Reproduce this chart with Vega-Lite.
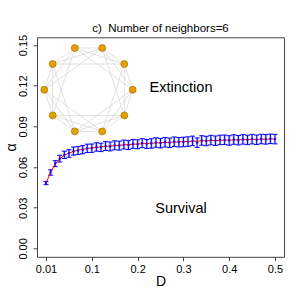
{
 "$schema": "https://vega.github.io/schema/vega-lite/v6.json",
 "width": 247, "height": 219.5,
 "autosize": {"type": "none"},
 "padding": {"left": 37, "top": 37.3, "right": 20, "bottom": 47.2},
 "background": "white",
 "config": {
  "view": {"stroke": "#444", "strokeWidth": 1},
  "font": "Liberation Sans",
  "axis": {"grid": false, "domain": false, "tickColor": "#444", "tickSize": 4, "labelColor": "black", "titleColor": "black", "labelFontSize": 11, "titleFontWeight": "normal", "labelFont": "Liberation Sans", "titleFont": "Liberation Sans", "titleFontSize": 14}
 },
 "title": {"text": "c)\u00a0 Number of neighbors=6", "fontSize": 11.5, "fontWeight": "normal", "font": "Liberation Sans", "color": "black", "offset": 0},
 "datasets": {
  "curve": [
   {"D":0.00,"m":0.0482,"fit":0.0480,"lo":0.0470,"hi":0.0494},
   {"D":0.01,"m":0.0560,"fit":0.0562,"lo":0.0540,"hi":0.0580},
   {"D":0.02,"m":0.0625,"fit":0.0622,"lo":0.0603,"hi":0.0647},
   {"D":0.03,"m":0.0662,"fit":0.0660,"lo":0.0637,"hi":0.0687},
   {"D":0.04,"m":0.0690,"fit":0.0686,"lo":0.0663,"hi":0.0717},
   {"D":0.05,"m":0.0700,"fit":0.0703,"lo":0.0672,"hi":0.0728},
   {"D":0.06,"m":0.0718,"fit":0.0715,"lo":0.0688,"hi":0.0748},
   {"D":0.07,"m":0.0722,"fit":0.0724,"lo":0.0692,"hi":0.0752},
   {"D":0.08,"m":0.0728,"fit":0.0731,"lo":0.0698,"hi":0.0758},
   {"D":0.09,"m":0.0738,"fit":0.0736,"lo":0.0707,"hi":0.0769},
   {"D":0.10,"m":0.0739,"fit":0.0741,"lo":0.0708,"hi":0.0770},
   {"D":0.11,"m":0.0748,"fit":0.0745,"lo":0.0717,"hi":0.0779},
   {"D":0.12,"m":0.0745,"fit":0.0749,"lo":0.0714,"hi":0.0776},
   {"D":0.13,"m":0.0755,"fit":0.0752,"lo":0.0722,"hi":0.0788},
   {"D":0.14,"m":0.0752,"fit":0.0755,"lo":0.0719,"hi":0.0785},
   {"D":0.15,"m":0.0760,"fit":0.0758,"lo":0.0727,"hi":0.0793},
   {"D":0.16,"m":0.0758,"fit":0.0761,"lo":0.0725,"hi":0.0791},
   {"D":0.17,"m":0.0766,"fit":0.0763,"lo":0.0733,"hi":0.0799},
   {"D":0.18,"m":0.0762,"fit":0.0766,"lo":0.0729,"hi":0.0795},
   {"D":0.19,"m":0.0771,"fit":0.0768,"lo":0.0738,"hi":0.0804},
   {"D":0.20,"m":0.0768,"fit":0.0770,"lo":0.0735,"hi":0.0801},
   {"D":0.21,"m":0.0776,"fit":0.0772,"lo":0.0743,"hi":0.0809},
   {"D":0.22,"m":0.0770,"fit":0.0774,"lo":0.0737,"hi":0.0803},
   {"D":0.23,"m":0.0774,"fit":0.0776,"lo":0.0739,"hi":0.0809},
   {"D":0.24,"m":0.0781,"fit":0.0778,"lo":0.0746,"hi":0.0816},
   {"D":0.25,"m":0.0776,"fit":0.0779,"lo":0.0741,"hi":0.0811},
   {"D":0.26,"m":0.0783,"fit":0.0781,"lo":0.0748,"hi":0.0818},
   {"D":0.27,"m":0.0779,"fit":0.0783,"lo":0.0744,"hi":0.0814},
   {"D":0.28,"m":0.0787,"fit":0.0784,"lo":0.0752,"hi":0.0822},
   {"D":0.29,"m":0.0783,"fit":0.0786,"lo":0.0748,"hi":0.0818},
   {"D":0.30,"m":0.0785,"fit":0.0787,"lo":0.0750,"hi":0.0820},
   {"D":0.31,"m":0.0788,"fit":0.0789,"lo":0.0753,"hi":0.0823},
   {"D":0.32,"m":0.0793,"fit":0.0790,"lo":0.0758,"hi":0.0828},
   {"D":0.33,"m":0.0780,"fit":0.0791,"lo":0.0745,"hi":0.0815},
   {"D":0.34,"m":0.0796,"fit":0.0793,"lo":0.0761,"hi":0.0831},
   {"D":0.35,"m":0.0792,"fit":0.0794,"lo":0.0757,"hi":0.0827},
   {"D":0.36,"m":0.0799,"fit":0.0795,"lo":0.0764,"hi":0.0834},
   {"D":0.37,"m":0.0794,"fit":0.0796,"lo":0.0759,"hi":0.0829},
   {"D":0.38,"m":0.0800,"fit":0.0797,"lo":0.0765,"hi":0.0835},
   {"D":0.39,"m":0.0801,"fit":0.0798,"lo":0.0766,"hi":0.0836},
   {"D":0.40,"m":0.0796,"fit":0.0799,"lo":0.0761,"hi":0.0831},
   {"D":0.41,"m":0.0803,"fit":0.0800,"lo":0.0768,"hi":0.0838},
   {"D":0.42,"m":0.0798,"fit":0.0801,"lo":0.0763,"hi":0.0833},
   {"D":0.43,"m":0.0804,"fit":0.0802,"lo":0.0769,"hi":0.0839},
   {"D":0.44,"m":0.0800,"fit":0.0803,"lo":0.0765,"hi":0.0835},
   {"D":0.45,"m":0.0806,"fit":0.0804,"lo":0.0771,"hi":0.0841},
   {"D":0.46,"m":0.0801,"fit":0.0804,"lo":0.0766,"hi":0.0836},
   {"D":0.47,"m":0.0807,"fit":0.0805,"lo":0.0772,"hi":0.0842},
   {"D":0.48,"m":0.0804,"fit":0.0806,"lo":0.0769,"hi":0.0839},
   {"D":0.49,"m":0.0808,"fit":0.0806,"lo":0.0773,"hi":0.0843},
   {"D":0.50,"m":0.0806,"fit":0.0807,"lo":0.0771,"hi":0.0841}
  ],
  "nodes": [
   {"D":0.1893,"a":0.1170},{"D":0.1710,"a":0.1360},{"D":0.1227,"a":0.1478},{"D":0.0629,"a":0.1478},{"D":0.0146,"a":0.1360},
   {"D":-0.0037,"a":0.1170},{"D":0.0146,"a":0.0981},{"D":0.0629,"a":0.0863},{"D":0.1227,"a":0.0863},{"D":0.1710,"a":0.0981}
  ],
  "edges": [
   {"D":0.1893,"a":0.1170,"D2":0.1710,"a2":0.1360},
   {"D":0.1710,"a":0.1360,"D2":0.1227,"a2":0.1478},
   {"D":0.1227,"a":0.1478,"D2":0.0629,"a2":0.1478},
   {"D":0.0629,"a":0.1478,"D2":0.0146,"a2":0.1360},
   {"D":0.0146,"a":0.1360,"D2":-0.0037,"a2":0.1170},
   {"D":-0.0037,"a":0.1170,"D2":0.0146,"a2":0.0981},
   {"D":0.0146,"a":0.0981,"D2":0.0629,"a2":0.0863},
   {"D":0.0629,"a":0.0863,"D2":0.1227,"a2":0.0863},
   {"D":0.1227,"a":0.0863,"D2":0.1710,"a2":0.0981},
   {"D":0.1710,"a":0.0981,"D2":0.1893,"a2":0.1170},
   {"D":0.1893,"a":0.1170,"D2":0.1227,"a2":0.1478},
   {"D":0.1710,"a":0.1360,"D2":0.0629,"a2":0.1478},
   {"D":0.1227,"a":0.1478,"D2":0.0146,"a2":0.1360},
   {"D":0.0629,"a":0.1478,"D2":-0.0037,"a2":0.1170},
   {"D":0.0146,"a":0.1360,"D2":0.0146,"a2":0.0981},
   {"D":-0.0037,"a":0.1170,"D2":0.0629,"a2":0.0863},
   {"D":0.0146,"a":0.0981,"D2":0.1227,"a2":0.0863},
   {"D":0.0629,"a":0.0863,"D2":0.1710,"a2":0.0981},
   {"D":0.1227,"a":0.0863,"D2":0.1893,"a2":0.1170},
   {"D":0.1710,"a":0.0981,"D2":0.1710,"a2":0.1360},
   {"D":0.1893,"a":0.1170,"D2":0.0629,"a2":0.1478},
   {"D":0.1710,"a":0.1360,"D2":0.0146,"a2":0.1360},
   {"D":0.1227,"a":0.1478,"D2":-0.0037,"a2":0.1170},
   {"D":0.0629,"a":0.1478,"D2":0.0146,"a2":0.0981},
   {"D":0.0146,"a":0.1360,"D2":0.0629,"a2":0.0863},
   {"D":-0.0037,"a":0.1170,"D2":0.1227,"a2":0.0863},
   {"D":0.0146,"a":0.0981,"D2":0.1710,"a2":0.0981},
   {"D":0.0629,"a":0.0863,"D2":0.1893,"a2":0.1170},
   {"D":0.1227,"a":0.0863,"D2":0.1710,"a2":0.1360},
   {"D":0.1710,"a":0.0981,"D2":0.1227,"a2":0.1478}
  ],
  "labels": [
   {"D":0.2948,"a":0.1183,"t":"Extinction"},
   {"D":0.2948,"a":0.0290,"t":"Survival"}
  ]
 },
 "layer": [
  {
   "data": {"name": "edges"},
   "mark": {"type": "rule", "color": "#d9d9d9", "strokeWidth": 0.8},
   "encoding": {
    "x": {"field": "D", "type": "quantitative", "title": "D", "scale": {"domain": [-0.0197, 0.5197], "nice": false, "zero": false}, "axis": {"values": [0, 0.1, 0.2, 0.3, 0.4, 0.5], "format": ".1f", "labelExpr": "datum.value < 0.001 ? '0.01' : datum.label", "labelPadding": 3, "titlePadding": 0}},
    "y": {"field": "a", "type": "quantitative", "title": "α", "scale": {"domain": [-0.0062, 0.1557], "nice": false, "zero": false}, "axis": {"values": [0, 0.03, 0.06, 0.09, 0.12, 0.15], "format": ".2f", "labelAngle": -90, "labelAlign": "center", "labelBaseline": "bottom", "labelPadding": 5, "titlePadding": -1}},
    "x2": {"field": "D2"},
    "y2": {"field": "a2"}
   }
  },
  {
   "data": {"name": "nodes"},
   "mark": {"type": "point", "filled": true, "fill": "#E69F00", "stroke": "#A87300", "strokeWidth": 0.7, "size": 48, "opacity": 1},
   "encoding": {
    "x": {"field": "D", "type": "quantitative", "title": "D"},
    "y": {"field": "a", "type": "quantitative", "title": "α"}
   }
  },
  {
   "data": {"name": "curve"},
   "mark": {"type": "rule", "color": "#c4c4ff", "strokeWidth": 2.5},
   "encoding": {
    "x": {"field": "D", "type": "quantitative", "title": "D"},
    "y": {"field": "lo", "type": "quantitative", "title": "α"},
    "y2": {"field": "hi"}
   }
  },
  {
   "data": {"name": "curve"},
   "mark": {"type": "rule", "color": "#0000ff", "strokeWidth": 1},
   "encoding": {
    "x": {"field": "D", "type": "quantitative", "title": "D"},
    "y": {"field": "lo", "type": "quantitative", "title": "α"},
    "y2": {"field": "hi"}
   }
  },
  {
   "data": {"name": "curve"},
   "mark": {"type": "tick", "orient": "horizontal", "color": "#0000ff", "size": 5, "thickness": 1, "opacity": 1},
   "encoding": {
    "x": {"field": "D", "type": "quantitative", "title": "D"},
    "y": {"field": "lo", "type": "quantitative", "title": "α"}
   }
  },
  {
   "data": {"name": "curve"},
   "mark": {"type": "tick", "orient": "horizontal", "color": "#0000ff", "size": 5, "thickness": 1, "opacity": 1},
   "encoding": {
    "x": {"field": "D", "type": "quantitative", "title": "D"},
    "y": {"field": "hi", "type": "quantitative", "title": "α"}
   }
  },
  {
   "data": {"name": "curve"},
   "mark": {"type": "line", "color": "#ff0000", "strokeWidth": 1},
   "encoding": {
    "x": {"field": "D", "type": "quantitative", "title": "D"},
    "y": {"field": "fit", "type": "quantitative", "title": "α"}
   }
  },
  {
   "data": {"name": "curve"},
   "mark": {"type": "point", "filled": true, "color": "#0000ff", "size": 5, "opacity": 1},
   "encoding": {
    "x": {"field": "D", "type": "quantitative", "title": "D"},
    "y": {"field": "m", "type": "quantitative", "title": "α"}
   }
  },
  {
   "data": {"name": "labels"},
   "mark": {"type": "text", "fontSize": 14.5, "font": "Liberation Sans", "color": "black", "align": "center", "baseline": "middle"},
   "encoding": {
    "x": {"field": "D", "type": "quantitative", "title": "D"},
    "y": {"field": "a", "type": "quantitative", "title": "α"},
    "text": {"field": "t"}
   }
  }
 ]
}
